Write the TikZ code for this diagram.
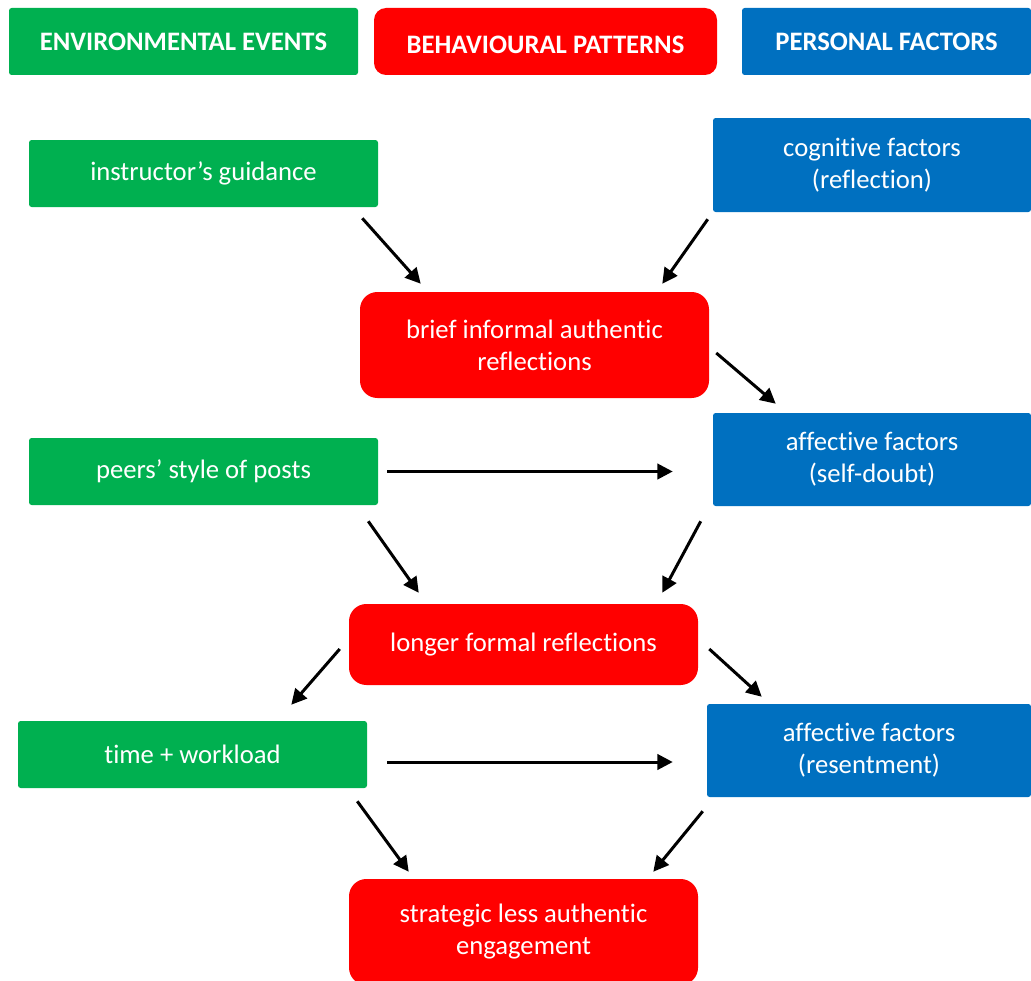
\documentclass[tikz,border=0pt]{standalone}
\usepackage{fontspec}
\setmainfont{Carlito}[Ligatures=NoCommon]
\usetikzlibrary{arrows.meta,calc}
\definecolor{envgreen}{HTML}{00B050}
\definecolor{behred}{HTML}{FF0000}
\definecolor{perblue}{HTML}{0070C0}
\tikzset{
  box/.style={rectangle, text=white, align=center, inner sep=0pt,
    font=\fontsize{20}{24}\selectfont},
  envbox/.style={box, fill=envgreen, rounded corners=2pt},
  behbox/.style={box, fill=behred, rounded corners=13pt},
  perbox/.style={box, fill=perblue, rounded corners=2pt},
  head/.style={font=\fontsize{20}{24}\bfseries\selectfont},
  arr/.style={line width=2.25pt, -{Triangle[length=11.5pt,width=11.5pt]}}
}
\begin{document}
\begin{tikzpicture}[x=0.75pt,y=-0.75pt]
\useasboundingbox (0,0) rectangle (1031,981);
\clip (0,0) rectangle (1031,981);
% column headings
\node[envbox, head, minimum width=349*0.75pt, minimum height=67*0.75pt] (envh) at (183.5,41.5) {ENVIRONMENTAL EVENTS};
\node[behbox, head, rounded corners=9pt, minimum width=343*0.75pt, minimum height=67*0.75pt, text height=18pt, text depth=0pt] (behh) at (545.5,41.5) {BEHAVIOURAL PATTERNS};
\node[perbox, head, minimum width=289*0.75pt, minimum height=67*0.75pt] (perh) at (886.5,41.5) {PERSONAL FACTORS};
% boxes
\node[envbox, minimum width=349*0.75pt, minimum height=67*0.75pt] (instr) at (203.5,173.5) {instructor’s guidance};
\node[perbox, minimum width=318*0.75pt, minimum height=94*0.75pt] (cog) at (872,165) {cognitive factors\\(reflection)};
\node[behbox, minimum width=349*0.75pt, minimum height=106*0.75pt] (brief) at (534.5,345) {brief informal authentic\\reflections};
\node[envbox, minimum width=349*0.75pt, minimum height=67*0.75pt] (peers) at (203.5,471.5) {peers’ style of posts};
\node[perbox, minimum width=318*0.75pt, minimum height=93*0.75pt] (aff1) at (872,459.5) {affective factors\\(self-doubt)};
\node[behbox, minimum width=349*0.75pt, minimum height=81*0.75pt] (longer) at (523.5,644.5) {longer formal reflections};
\node[envbox, minimum width=349*0.75pt, minimum height=67*0.75pt] (time) at (192.5,754.5) {time + workload};
\node[perbox, minimum width=324*0.75pt, minimum height=93*0.75pt] (aff2) at (869,750.5) {affective factors\\(resentment)};
\node[behbox, minimum width=349*0.75pt, minimum height=106*0.75pt] (strat) at (523.5,932) {strategic less authentic\\engagement};
% connectors
\draw[arr] ([shift={(-16,11)}]instr.south east) -- ([shift={(61,-8)}]brief.north west);
\draw[arr] ([shift={(-5,7)}]cog.south west) -- ([shift={(-47,-8)}]brief.north east);
\draw[arr] ([shift={(7,8)}]brief.east) -- ([shift={(63,-9)}]aff1.north west);
\draw[arr] ([shift={(9,0)}]peers.east) -- ($(aff1.west |- peers.east)+(-40,0)$);
\draw[arr] ([shift={(-10,16)}]peers.south east) -- ([shift={(70,-11)}]longer.north west);
\draw[arr] ([shift={(-12,15)}]aff1.south west) -- ([shift={(-36,-11)}]longer.north east);
\draw[arr] ([shift={(-9,4.5)}]longer.west) -- ([shift={(-76,-16)}]time.north east);
\draw[arr] ([shift={(11,4.5)}]longer.east) -- ([shift={(55,-7)}]aff2.north west);
\draw[arr] ([shift={(20,7.5)}]time.east) -- ([shift={(-34,11.5)}]aff2.west);
\draw[arr] ([shift={(-10,13)}]time.south east) -- ([shift={(60,-7)}]strat.north west);
\draw[arr] ([shift={(-4,14)}]aff2.south west) -- ([shift={(-45,-7)}]strat.north east);
\end{tikzpicture}
\end{document}
